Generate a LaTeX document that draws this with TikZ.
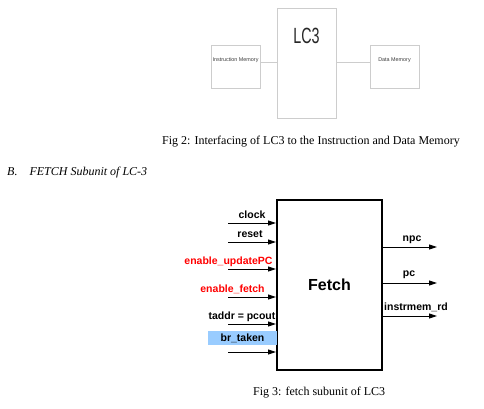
\documentclass[tikz,border=0pt]{standalone}
\usepackage{fontspec}
\setmainfont{Liberation Serif}
\setsansfont{Liberation Sans}
\usetikzlibrary{arrows.meta, positioning}
\definecolor{brblue}{RGB}{153,204,255}
\definecolor{sketchgray}{RGB}{205,205,205}
\definecolor{sketchtext}{RGB}{60,60,60}
\tikzset{
    % Sketch of the LC3 interface (top figure)
    sketchbox/.style  = {draw=sketchgray, line width=1pt, fill=white, inner sep=0pt},
    sketchline/.style = {draw=sketchgray, line width=1pt},
    memtext/.style    = {font=\sffamily\fontsize{5.4}{6}\selectfont, text=sketchtext, inner sep=0pt},
    % Fetch subunit (bottom figure)
    unit/.style  = {draw=black, line width=2pt, inner sep=0pt,
                    font=\sffamily\bfseries\fontsize{16}{18}\selectfont},
    sig/.style   = {line width=0.9pt, -{Triangle[length=8pt,width=5pt]}},
    pin/.style   = {font=\sffamily\bfseries\fontsize{10.5}{12}\selectfont, inner sep=0pt},
    warn/.style  = {pin, text=red},
    caption/.style = {font=\fontsize{12}{14}\selectfont, inner sep=0pt}
}
\begin{document}
\begin{tikzpicture}[x=1pt, y=-1pt]
    \useasboundingbox (0,0) rectangle (484,408);

    % Fig 2: LC3 with its memories
    \node (imem) [sketchbox, minimum width=49pt, minimum height=43pt] at (235.5,66.5) {};
    \node (lc3)  [sketchbox, minimum width=59pt, minimum height=110pt] at (306.5,63) {};
    \node (dmem) [sketchbox, minimum width=49pt, minimum height=43pt] at (394.5,66.5) {};
    \node [memtext] at ([yshift=6pt]imem.center) {Instruction Memory};
    \node [memtext] at ([yshift=6pt]dmem.center) {Data Memory};
    \node [font=\sffamily\fontsize{22}{24}\selectfont, text=black!85, xscale=0.65, transform shape]
        at ([yshift=-28pt]lc3.north) {LC3};

    \coordinate (imemport) at ([yshift=4pt]imem.east);
    \coordinate (dmemport) at ([yshift=4pt]dmem.west);
    \draw [sketchline] (imemport) -- (imemport -| lc3.west);
    \draw [sketchline] (dmemport -| lc3.east) -- (dmemport);

    \node (cap2) [caption, anchor=base west] at (162,144.5)
        {Fig 2: Interfacing of LC3 to the Instruction and Data Memory};
    \node (secB) [caption, font=\itshape\fontsize{12}{14}\selectfont, anchor=base west] at (7,175)
        {B.\hspace{12pt}FETCH Subunit of LC-3};

    % Fig 3: fetch subunit
    \node (fetch) [unit, minimum width=105pt, minimum height=170pt] at (329.5,285) {Fetch};

    % inputs
    \coordinate (clk)   at (228,223);
    \coordinate (rst)   at (228,242);
    \coordinate (enupd) at (228,269);
    \coordinate (enfet) at (228,297);
    \coordinate (taddr) at (228,324);
    \coordinate (brtk)  at (228,352);
    \foreach \c in {clk, rst, enupd, enfet, taddr, brtk}
        \draw [sig] (\c) -- (\c -| fetch.west);

    \node [pin, anchor=base]  at (252,218)   {clock};
    \node [pin, anchor=base]  at (250,237)   {reset};
    \node [warn, anchor=base] at (228.5,264) {enable\_updatePC};
    \node [warn, anchor=base] at (232.5,292) {enable\_fetch};
    \node [pin, anchor=base]  at (242,319)   {taddr = pcout};
    \node (brlbl) [pin, fill=brblue, minimum width=69pt, minimum height=14pt] at (242.5,338) {br\_taken};

    % outputs
    \coordinate (npc)  at (437,247);
    \coordinate (pc)   at (437,283);
    \coordinate (imrd) at (437,316);
    \foreach \c in {npc, pc, imrd}
        \draw [sig] (\c -| fetch.east) -- (\c);

    \node [pin, anchor=base] at (412,241) {npc};
    \node [pin, anchor=base] at (409,276) {pc};
    \node [pin, anchor=base] at (416,310) {instrmem\_rd};

    \node (cap3) [caption, anchor=base west] at (253,395) {Fig 3: fetch subunit of LC3};

\end{tikzpicture}
\end{document}
